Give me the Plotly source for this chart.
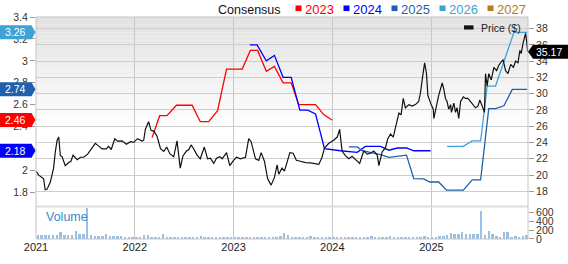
import plotly.graph_objects as go
import pandas as pd

# ---------------- data ----------------
price_dates = [
    "2021-01-01", "2021-01-11", "2021-01-23", "2021-01-29", "2021-02-04", "2021-02-11", "2021-02-23",
    "2021-03-07", "2021-03-13", "2021-03-20", "2021-03-26", "2021-04-01", "2021-04-07", "2021-04-19",
    "2021-05-02", "2021-05-10", "2021-05-18", "2021-06-02", "2021-06-14", "2021-06-26", "2021-07-11",
    "2021-07-27", "2021-08-08", "2021-08-20", "2021-09-02", "2021-09-18", "2021-09-26", "2021-10-06",
    "2021-10-19", "2021-10-30", "2021-11-15", "2021-12-01", "2021-12-16", "2021-12-28",
    "2022-01-11", "2022-01-28", "2022-02-03", "2022-02-09", "2022-02-21", "2022-03-02", "2022-03-12",
    "2022-03-24", "2022-04-06", "2022-04-18", "2022-04-29", "2022-05-11", "2022-05-25", "2022-06-06",
    "2022-06-18", "2022-06-28", "2022-07-11", "2022-07-20", "2022-07-28", "2022-08-07", "2022-08-19",
    "2022-08-31", "2022-09-15", "2022-09-27", "2022-10-07", "2022-10-20", "2022-10-30", "2022-11-11",
    "2022-11-20", "2022-12-06", "2022-12-18",
    "2023-01-01", "2023-01-12", "2023-01-26", "2023-02-14", "2023-02-26", "2023-03-07", "2023-03-23",
    "2023-04-04", "2023-04-13", "2023-04-25", "2023-05-07", "2023-05-20", "2023-06-01", "2023-06-11",
    "2023-06-17", "2023-06-29", "2023-07-08", "2023-07-18", "2023-07-28", "2023-08-09", "2023-08-21",
    "2023-09-05", "2023-09-24", "2023-10-12", "2023-10-31", "2023-11-12", "2023-11-24", "2023-12-03",
    "2023-12-19",
    "2024-01-06", "2024-01-19", "2024-01-28", "2024-02-06", "2024-02-18", "2024-03-02", "2024-03-14",
    "2024-03-26", "2024-04-11", "2024-04-26", "2024-05-09", "2024-05-21", "2024-06-02", "2024-06-15",
    "2024-06-21", "2024-07-03", "2024-07-15", "2024-07-24", "2024-08-03", "2024-08-13", "2024-08-25",
    "2024-09-03", "2024-09-11", "2024-09-19", "2024-09-27", "2024-10-10", "2024-10-22", "2024-11-03",
    "2024-11-15", "2024-11-22", "2024-11-28", "2024-12-07", "2024-12-14", "2024-12-19", "2024-12-29",
    "2025-01-08", "2025-01-10", "2025-01-20", "2025-01-28", "2025-02-10", "2025-02-16", "2025-02-22",
    "2025-02-28", "2025-03-06", "2025-03-13", "2025-03-16", "2025-03-25", "2025-03-31", "2025-04-06",
    "2025-04-12", "2025-04-19", "2025-04-29", "2025-05-07", "2025-05-16", "2025-05-26", "2025-06-05",
    "2025-06-13", "2025-06-22", "2025-06-29", "2025-07-08", "2025-07-16", "2025-07-20", "2025-07-26",
    "2025-08-01", "2025-08-10", "2025-08-20", "2025-08-30", "2025-09-07", "2025-09-14", "2025-09-23",
    "2025-10-02", "2025-10-11", "2025-10-21", "2025-10-31", "2025-11-08", "2025-11-17", "2025-11-24",
    "2025-11-29", "2025-12-06", "2025-12-15", "2025-12-19", "2025-12-23",
]
price_values = [
    20.48, 19.99, 19.71, 19.53, 18.19, 18.27, 19.14,
    20.85, 22.76, 24.28, 24.67, 22.38, 22.30, 21.16,
    21.54, 21.70, 22.45, 21.88, 22.19, 22.19, 22.57,
    23.33, 23.90, 23.59, 23.21, 23.21, 23.52, 23.14,
    24.47, 24.17, 24.21, 23.79, 24.10, 24.02,
    24.47, 24.17, 24.28, 25.61, 26.56, 25.50, 25.40,
    24.80, 23.24, 22.90, 23.44, 22.60, 22.25, 24.20,
    20.85, 22.35, 22.95, 23.14, 23.71, 23.21, 22.45,
    22.00, 23.44, 22.00, 22.08, 21.43, 22.08, 22.27,
    22.00, 22.76, 21.16,
    21.81, 22.19, 22.00, 22.19, 24.47, 24.10, 22.00,
    21.81, 22.76, 21.70, 19.53, 18.76, 19.71, 21.24,
    20.10, 20.85, 20.48, 21.62, 22.76, 22.68, 21.81,
    21.70, 21.54, 21.50, 21.43, 21.31, 22.19, 23.33,
    23.90,
    24.28, 24.67, 25.61, 22.95, 22.38, 22.00, 22.30,
    21.92, 21.43, 22.95, 22.57, 22.68, 22.95, 22.45,
    21.16, 22.84, 23.33, 24.47, 25.04, 24.67, 26.18,
    27.63, 27.40, 29.42, 28.27, 28.66, 28.47, 28.66,
    29.04, 30.18, 31.70, 33.80, 32.46, 29.80, 28.84,
    28.09, 26.95, 28.66, 29.80, 31.32, 30.56, 29.42,
    29.04, 28.09, 28.66, 27.70, 28.84, 27.70, 28.27,
    26.95, 29.04, 29.61, 29.42, 29.42, 29.04, 28.66,
    28.27, 28.47, 29.23, 28.47, 27.70, 32.46, 30.94,
    32.46, 31.70, 33.23, 32.84, 33.50, 33.80, 34.18,
    32.84, 32.46, 33.61, 33.23, 33.99, 33.80, 35.32,
    34.94, 36.26, 37.41, 36.46, 35.17,
]

cons_years = ["2023", "2024", "2025", "2026", "2027"]
cons_colors = ["#ff0000", "#0000ff", "#1f5fae", "#40a2d3", "#b27a2b"]

eps_2023_dates = ["2022-03-06", "2022-04-03", "2022-04-30", "2022-06-04", "2022-08-01", "2022-08-31",
                  "2022-10-01", "2022-11-03", "2022-12-06", "2023-02-02", "2023-03-04", "2023-03-31",
                  "2023-05-02", "2023-06-01", "2023-07-03", "2023-08-02", "2023-08-30", "2023-10-31",
                  "2023-11-30", "2023-12-31"]
eps_2023_values = [2.30, 2.50, 2.50, 2.595, 2.595, 2.445, 2.445, 2.545, 2.925, 2.925, 3.095, 3.095,
                   2.905, 2.95, 2.80, 2.80, 2.60, 2.60, 2.51, 2.46]

eps_2024_dates = ["2023-03-02", "2023-03-29", "2023-05-02", "2023-06-01", "2023-07-03", "2023-08-02",
                  "2023-09-03", "2023-10-02", "2023-10-31", "2023-12-03", "2024-01-31", "2024-04-02",
                  "2024-05-02", "2024-06-27", "2024-07-28", "2024-08-28", "2024-10-01", "2024-10-28",
                  "2024-12-29"]
eps_2024_values = [3.145, 3.145, 3.00, 3.05, 2.85, 2.85, 2.55, 2.55, 2.515, 2.20, 2.18, 2.165,
                   2.22, 2.22, 2.185, 2.205, 2.205, 2.18, 2.18]

eps_2025_dates = ["2024-03-02", "2024-04-02", "2024-04-20", "2024-06-27", "2024-07-28", "2024-10-01",
                  "2024-10-28", "2024-12-04", "2024-12-26", "2025-01-28", "2025-02-26", "2025-04-29",
                  "2025-06-01", "2025-07-02", "2025-08-01", "2025-08-26", "2025-09-26", "2025-10-27",
                  "2025-12-21"]
eps_2025_values = [2.215, 2.215, 2.18, 2.145, 2.12, 2.14, 1.925, 1.923, 1.895, 1.895, 1.82, 1.82,
                   1.915, 1.915, 2.565, 2.565, 2.59, 2.74, 2.74]

eps_2026_dates = ["2025-02-28", "2025-04-29", "2025-06-01", "2025-07-02", "2025-07-26", "2025-08-26",
                  "2025-11-02", "2025-12-21"]
eps_2026_values = [2.22, 2.22, 2.27, 2.27, 2.77, 2.77, 3.26, 3.26]

# weekly-ish (two-week) volume, thousands of shares
volume_start = "2021-01-08"
volume_values = [
    80, 90, 85, 80, 90, 80, 140, 85, 80, 90, 180, 100, 110, 700, 90, 70, 60, 50, 100, 60, 50, 70, 60, 40, 40, 30,
    30, 40, 80, 90, 30, 25, 30, 100, 40, 30, 35, 40, 30, 30, 25, 20, 25, 60, 25, 20, 20, 25, 20, 20, 15, 20,
    15, 20, 20, 20, 25, 20, 20, 30, 25, 20, 25, 30, 60, 120, 80, 30, 25, 35, 30, 40, 50, 30, 40, 30, 25, 30,
    25, 20, 25, 20, 15, 20, 25, 30, 25, 20, 70, 20, 25, 30, 20, 60, 25, 30, 40, 30, 20, 25, 40, 30, 70, 30,
    40, 35, 60, 70, 90, 130, 110, 100, 140, 100, 110, 100, 110, 630, 90, 170, 110, 60, 40, 150, 140, 45, 50, 40, 60, 90,
]
volume_ticks = [0, 200, 400, 600]

x_range = ["2021-01-01", "2025-12-24"]
eps_range = [1.68, 3.4]
price_range = [16.25, 39.43]
volume_range = [0, 723]

# ---------------- figure ----------------
W, H = 568, 264
ML, MR, MT, MB = 36, 40, 14, 11
PW, PH = W - ML - MR, H - MT - MB
FONT = "Liberation Sans, Arial, sans-serif"


def px_x(px):
    return (px - ML) / PW


def px_y(py):
    return (H - MB - py) / PH


price_dom = [px_y(217), 1.0]
vol_dom = [0.0, px_y(219)]

fig = go.Figure()

vol_dates = pd.date_range(volume_start, periods=len(volume_values), freq="14D")
fig.add_trace(go.Bar(x=vol_dates, y=volume_values, xaxis="x", yaxis="y3",
                     marker=dict(color="#99c1e6", line_width=0),
                     width=9 * 86400000, showlegend=False, hoverinfo="skip"))

eps_series = [
    ("2023", eps_2023_dates, eps_2023_values),
    ("2024", eps_2024_dates, eps_2024_values),
    ("2025", eps_2025_dates, eps_2025_values),
    ("2026", eps_2026_dates, eps_2026_values),
]
color_of = dict(zip(cons_years, cons_colors))
for yr, d, v in eps_series:
    fig.add_trace(go.Scatter(x=d, y=v, mode="lines", xaxis="x", yaxis="y",
                             line=dict(color=color_of[yr], width=1.3),
                             showlegend=False, hoverinfo="skip"))

fig.add_trace(go.Scatter(x=price_dates, y=price_values, mode="lines", xaxis="x", yaxis="y2",
                         line=dict(color="#111111", width=1.2), showlegend=False, hoverinfo="skip"))

shapes = []
# gradient background on the price panel
N = 30
top_c, bot_c = 0xe2, 0xff
pd0, pd1 = price_dom
span = (pd1 - pd0) * 0.62
for i in range(N):
    y1 = pd1 - span * i / N
    y0 = pd1 - span * (i + 1) / N
    c = int(round(top_c + (bot_c - top_c) * (i + 0.5) / N))
    shapes.append(dict(type="rect", xref="paper", yref="paper", x0=0, x1=1, y0=y0, y1=y1,
                       fillcolor=f"rgb({c},{c},{c})", line_width=0, layer="below"))
# separator band between panels
shapes.append(dict(type="rect", xref="paper", yref="paper", x0=0, x1=1, y0=vol_dom[1], y1=price_dom[0],
                   fillcolor="#dddddd", line_width=0, layer="below"))
# outer border
shapes.append(dict(type="rect", xref="paper", yref="paper", x0=0, x1=1, y0=0, y1=1,
                   line=dict(color="#c4c4c4", width=1), fillcolor="rgba(0,0,0,0)", layer="above"))

annotations = []
# left consensus flags (last value of each series)
for yr, d, v in eps_series:
    last = v[-1]
    shapes.append(dict(type="path", xref="paper", xsizemode="pixel", xanchor=0,
                       yref="y", ysizemode="pixel", yanchor=last,
                       path="M -36,-7 L -4.5,-7 L -0.5,0 L -4.5,7 L -36,7 Z",
                       fillcolor=color_of[yr], line_width=0, layer="above"))
    annotations.append(dict(x=0, xref="paper", xanchor="center", xshift=-21, y=last, yref="y",
                            yanchor="middle", text=f"{last:.2f}", showarrow=False,
                            font=dict(family=FONT, size=10.5, color="white")))
# right price flag
last_price = price_values[-1]
shapes.append(dict(type="path", xref="paper", xsizemode="pixel", xanchor=1,
                   yref="y2", ysizemode="pixel", yanchor=last_price,
                   path="M 0,0 L 5,-7 L 41,-7 L 41,7 L 5,7 Z",
                   fillcolor="#000000", line_width=0, layer="above"))
annotations.append(dict(x=1, xref="paper", xanchor="center", xshift=21, y=last_price, yref="y2",
                        yanchor="middle", text=f"{last_price:.2f}", showarrow=False,
                        font=dict(family=FONT, size=10.5, color="white")))

# top consensus legend
annotations.append(dict(x=px_x(283), xref="paper", xanchor="right", y=px_y(6), yref="paper",
                        yanchor="middle", text="Consensus", showarrow=False,
                        font=dict(family=FONT, size=12.5, color="#111111")))
sq_left = [295.5, 343.5, 391.5, 439.5, 487.5]
for yr, c, sx in zip(cons_years, cons_colors, sq_left):
    shapes.append(dict(type="rect", xref="paper", yref="paper",
                       x0=px_x(sx), x1=px_x(sx + 6), y0=px_y(7.6), y1=px_y(1.6),
                       fillcolor=c, line_width=0))
    annotations.append(dict(x=px_x(sx + 7.5), xref="paper", xanchor="left", y=px_y(6), yref="paper",
                            yanchor="middle", text=yr, showarrow=False,
                            font=dict(family=FONT, size=13, color=c)))

# price legend inside the plot
shapes.append(dict(type="rect", xref="paper", yref="paper", x0=px_x(464), x1=px_x(473.5),
                   y0=px_y(27.5), y1=px_y(23), fillcolor="#111111", line_width=0))
annotations.append(dict(x=px_x(478.5), xref="paper", xanchor="left", y=px_y(25.5), yref="paper",
                        yanchor="middle", text="Price ($)", showarrow=False,
                        font=dict(family=FONT, size=10.5, color="#222222")))
# volume label
annotations.append(dict(x=px_x(44), xref="paper", xanchor="left", y=px_y(229), yref="paper",
                        yanchor="middle", text="Volume", showarrow=False,
                        font=dict(family=FONT, size=12.5, color="#3a88c8")))

tickfont = dict(family=FONT, size=10.5, color="#333333")
fig.update_layout(
    width=W, height=H,
    margin=dict(l=ML, r=MR, t=MT, b=MB, pad=0),
    paper_bgcolor="white", plot_bgcolor="white",
    showlegend=False,
    bargap=0,
    xaxis=dict(domain=[0, 1], anchor="y3", type="date", range=x_range,
               dtick="M12", tick0="2021-01-01", tickformat="%Y",
               showgrid=True, gridcolor="#c8c8c8", gridwidth=1,
               ticks="", showline=False, zeroline=False,
               tickfont=dict(family=FONT, size=11, color="#222222")),
    yaxis=dict(domain=price_dom, anchor="x", side="left", range=eps_range,
               dtick=0.2, tick0=0, showgrid=False, zeroline=False,
               ticks="outside", ticklen=5, tickcolor="#999999", tickfont=tickfont),
    yaxis2=dict(overlaying="y", anchor="x", side="right", range=price_range,
                dtick=2, tick0=0, showgrid=True, gridcolor="#cdcdcd", gridwidth=1,
                zeroline=False, ticks="outside", ticklen=5, tickcolor="#999999",
                tickfont=tickfont),
    yaxis3=dict(domain=vol_dom, anchor="x", side="right", range=volume_range,
                tickvals=volume_ticks, showgrid=False, zeroline=False,
                ticks="outside", ticklen=5, tickcolor="#999999", tickfont=tickfont),
    shapes=shapes,
    annotations=annotations,
)

fig.write_html("out.html")
